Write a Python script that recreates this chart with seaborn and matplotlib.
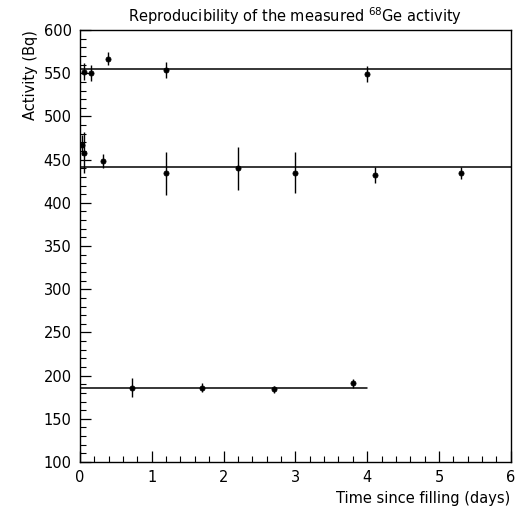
import matplotlib
matplotlib.use('Agg')

import matplotlib.pyplot as plt
from matplotlib.ticker import MultipleLocator
import seaborn as sns
import pandas as pd

# measured points (time in days, activity in Bq, error)
top_t = [0.06, 0.15, 0.39, 1.20, 4.00]
top_a = [552, 550, 567, 554, 549]
top_e = [10, 9, 7, 9, 9]

mid_t = [0.03, 0.06, 0.32, 1.20, 2.20, 3.00, 4.11, 5.31]
mid_a = [467, 458, 448, 434, 440, 435, 432, 435]
mid_e = [12, 24, 8, 25, 25, 24, 9, 7]

low_t = [0.72, 1.70, 2.70, 3.80]
low_a = [186, 186, 184, 191]
low_e = [11, 5, 4, 5]

# fitted constant levels and their time ranges
fit_level = [555, 442, 186]
fit_start = [0.0, 0.0, 0.0]
fit_end = [6.0, 6.0, 4.0]

df = pd.DataFrame({
    't': top_t + mid_t + low_t,
    'a': top_a + mid_a + low_a,
    'e': top_e + mid_e + low_e,
})

sns.set_style('ticks')
plt.rcParams['font.family'] = ['DejaVu Sans']
plt.rcParams['text.color'] = 'black'
plt.rcParams['axes.labelcolor'] = 'black'
plt.rcParams['xtick.color'] = 'black'
plt.rcParams['ytick.color'] = 'black'
plt.rcParams['axes.edgecolor'] = 'black'

fig = plt.figure(figsize=(5.26, 5.09), dpi=100)
ax = fig.add_axes([0.152, 0.0923, 0.819, 0.8487])

for lvl, t0, t1 in zip(fit_level, fit_start, fit_end):
    ax.plot([t0, t1], [lvl, lvl], color='black', lw=1.1)

ax.errorbar(df['t'], df['a'], yerr=df['e'], fmt='none', ecolor='black',
            elinewidth=1.0, capsize=0)
sns.scatterplot(data=df, x='t', y='a', ax=ax, color='black', s=14,
                edgecolor='black', linewidth=0.5, zorder=3)

ax.set_xlim(0, 6)
ax.set_ylim(100, 600)
ax.xaxis.set_major_locator(MultipleLocator(1))
ax.xaxis.set_minor_locator(MultipleLocator(0.2))
ax.yaxis.set_major_locator(MultipleLocator(50))
ax.yaxis.set_minor_locator(MultipleLocator(10))
ax.tick_params(which='major', direction='in', length=8, width=0.9,
               labelsize=10.5, pad=6)
ax.tick_params(which='minor', direction='in', length=4, width=0.8)
for sp in ax.spines.values():
    sp.set_linewidth(1.0)

ax.set_xlabel('Time since filling (days)', loc='right', fontsize=10.5)
ax.set_ylabel('Activity (Bq)', loc='top', fontsize=10.5, labelpad=4)
ax.set_title('Reproducibility of the measured $^{68}$Ge activity',
             fontsize=10.5, pad=6)

fig.savefig('out.png', dpi=100)
